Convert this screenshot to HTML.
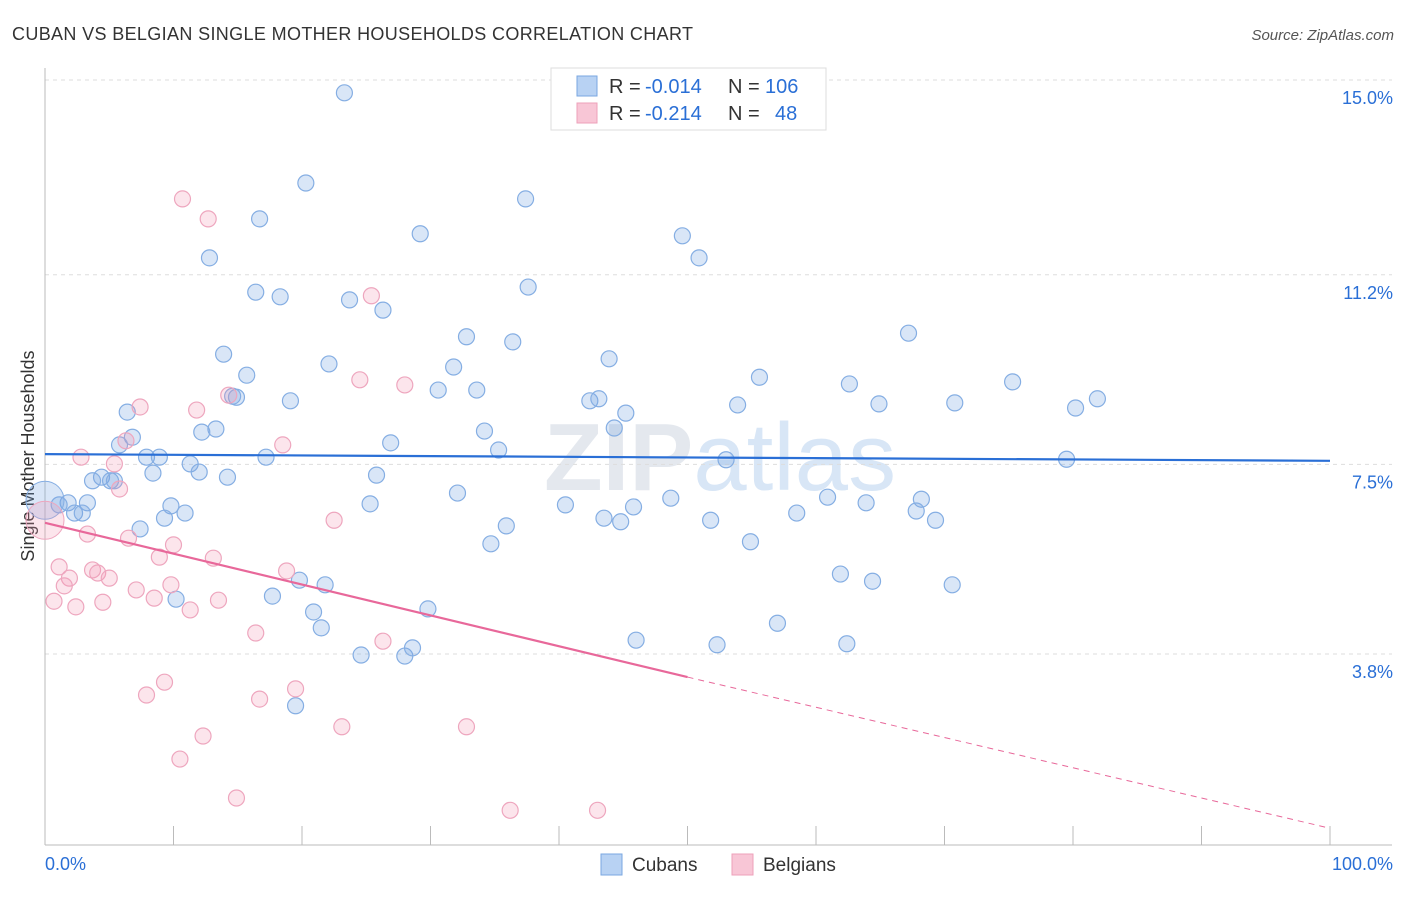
<!DOCTYPE html>
<html><head><meta charset="utf-8"><style>
body{margin:0;background:#fff;font-family:"Liberation Sans",sans-serif;}
</style></head><body>
<svg id="c" width="1406" height="892" xmlns="http://www.w3.org/2000/svg" style="font-family:'Liberation Sans',sans-serif">
<text x="12" y="40" font-size="18" fill="#333" textLength="681">CUBAN VS BELGIAN SINGLE MOTHER HOUSEHOLDS CORRELATION CHART</text>
<text x="1394" y="40" font-size="15" fill="#555" text-anchor="end" font-style="italic">Source: ZipAtlas.com</text>
<text x="720" y="490" font-size="96" fill="#e4e8ee" text-anchor="middle" font-weight="bold">ZIP<tspan fill="#d8e6f6" font-weight="normal">atlas</tspan></text>
<text x="34" y="456" font-size="18" fill="#333" text-anchor="middle" transform="rotate(-90 34 456)">Single Mother Households</text>
<g id="grid"></g><g id="pts"></g><g id="lines"></g>
<g>
<rect x="551" y="68" width="275" height="62" fill="#fff" stroke="#ddd"/>
<rect x="577" y="76" width="20" height="20" fill="#b8d2f3" stroke="#7aa7e0"/>
<rect x="577" y="103" width="20" height="20" fill="#f8c6d6" stroke="#eea0ba"/>
<text x="609" y="93" font-size="20" fill="#333">R =</text>
<text x="645" y="93" font-size="20" fill="#2a6fd6">-0.014</text>
<text x="728" y="93" font-size="20" fill="#333">N =</text>
<text x="765" y="93" font-size="20" fill="#2a6fd6">106</text>
<text x="609" y="120" font-size="20" fill="#333">R =</text>
<text x="645" y="120" font-size="20" fill="#2a6fd6">-0.214</text>
<text x="728" y="120" font-size="20" fill="#333">N =</text>
<text x="775" y="120" font-size="20" fill="#2a6fd6">48</text>
</g>
<g>
<rect x="601" y="854" width="21" height="21" fill="#b8d2f3" stroke="#7aa7e0"/>
<text x="632" y="871" font-size="19" fill="#333">Cubans</text>
<rect x="732" y="854" width="21" height="21" fill="#f8c6d6" stroke="#eea0ba"/>
<text x="763" y="871" font-size="19" fill="#333">Belgians</text>
</g>
</svg>
<script>
const yTicks=[15.0,11.2,7.5,3.8];
const yTickLabels=["15.0%","11.2%","7.5%","3.8%"];
const xTickLabels=["0.0%","100.0%"];
const cubanX=[23.3,20.3,37.4,16.7,29.2,49.6,12.8,50.9,37.6,16.4,18.3,23.7,26.3,67.2,32.8,36.4,13.9,43.9,22.1,31.8,15.7,55.6,62.6,75.3,30.6,33.6,14.9,14.6,19.1,42.4,43.1,53.9,64.9,70.8,81.9,80.2,6.4,45.2,44.3,13.3,12.2,34.2,6.8,5.8,26.9,35.3,7.9,8.9,17.2,53.0,79.5,11.3,8.4,12.0,14.2,25.8,4.4,3.7,5.1,5.4,32.1,48.7,60.9,68.2,3.3,1.8,1.1,25.3,40.5,45.8,63.9,9.8,67.8,2.3,2.9,10.9,9.3,58.5,43.5,44.8,51.8,69.3,35.9,7.4,34.7,54.9,61.9,64.4,70.6,19.8,21.8,17.7,10.2,29.8,20.9,21.5,57.0,46.0,52.3,62.4,24.6,28.0,28.6,19.5];
const cubanY=[14.75,12.99,12.68,12.29,12.0,11.96,11.53,11.53,10.96,10.86,10.77,10.71,10.51,10.06,9.99,9.89,9.65,9.56,9.46,9.40,9.24,9.2,9.07,9.11,8.95,8.95,8.81,8.83,8.74,8.74,8.78,8.66,8.68,8.70,8.78,8.60,8.52,8.50,8.21,8.19,8.13,8.15,8.03,7.88,7.92,7.78,7.64,7.64,7.64,7.59,7.60,7.51,7.33,7.35,7.25,7.29,7.25,7.18,7.18,7.18,6.94,6.84,6.86,6.82,6.75,6.75,6.71,6.73,6.71,6.67,6.75,6.69,6.59,6.55,6.55,6.55,6.45,6.55,6.45,6.38,6.41,6.41,6.30,6.24,5.95,5.99,5.36,5.22,5.15,5.24,5.15,4.93,4.87,4.68,4.62,4.31,4.40,4.07,3.98,4.00,3.78,3.76,3.92,2.79];
const belgianX=[10.7,12.7,25.4,24.5,28.0,14.3,7.4,11.8,6.3,18.5,2.8,5.4,5.8,22.5,3.3,6.5,10.0,8.9,13.1,1.1,3.7,4.1,1.9,5.0,18.8,1.5,9.8,7.1,8.5,0.7,4.5,13.5,2.4,11.3,16.4,26.3,9.3,19.5,7.9,16.7,23.1,32.8,12.3,10.5,14.9,36.2,43.0];
const belgianY=[12.68,12.29,10.79,9.15,9.05,8.85,8.62,8.56,7.96,7.88,7.64,7.51,7.02,6.41,6.14,6.06,5.93,5.69,5.67,5.50,5.44,5.38,5.28,5.28,5.42,5.13,5.15,5.05,4.89,4.83,4.81,4.85,4.72,4.66,4.21,4.05,3.25,3.12,3.0,2.92,2.38,2.38,2.2,1.75,0.99,0.75,0.75];
const bigPoints=[[0,6.80,"cubans"],[0,6.41,"belgians"]];
const cubanTrend=[7.70,7.57];
const belgianTrend=[6.36,3.35,0.40];
const NS="http://www.w3.org/2000/svg";
const X=v=>45+v*12.85, Y=v=>80+(15-v)*51.25;
function mk(t,a,p){const e=document.createElementNS(NS,t);for(const k in a)e.setAttribute(k,a[k]);p.appendChild(e);return e;}
const g=document.getElementById('grid'),svg=document.getElementById('c');
yTicks.forEach((t,i)=>{
 const l=mk('line',{x1:45,x2:1392,y1:Y(t),y2:Y(t),stroke:'#ddd','stroke-dasharray':'4,4'},g);
 
 
 const tx=mk('text',{x:1393,y:Y(t)+24,'font-size':18,fill:'#2a6fd6','text-anchor':'end'},g);
 tx.textContent=yTickLabels[i];
 
 
});
const ax=mk('line',{x1:45,x2:45,y1:68,y2:845,stroke:'#bbb'},g);


const bx=mk('line',{x1:45,x2:1392,y1:845,y2:845,stroke:'#bbb'},g);


for(let i=0;i<=10;i++){const t=mk('line',{x1:X(i*10),x2:X(i*10),y1:826,y2:845,stroke:'#bbb'},g);
 
 }
[[0,'start',45],[100,'end',1393]].forEach((d,i)=>{const t=mk('text',{x:d[2],y:870,'font-size':18,fill:'#2a6fd6','text-anchor':d[1]},g);t.textContent=xTickLabels[i];
 
 });
const p=document.getElementById('pts');
const sty={cubans:['rgba(120,165,225,0.28)','#85aee3'],belgians:['rgba(242,150,180,0.25)','#eea6be']};
function dots(xs,ys,s,name){xs.forEach((x,i)=>{const c=mk('circle',{cx:X(x),cy:Y(ys[i]),r:8,fill:sty[s][0],stroke:sty[s][1],'stroke-width':1.2},p);
 
 });}
dots(cubanX,cubanY,'cubans','cuban-point');
dots(belgianX,belgianY,'belgians','belgian-point');
bigPoints.forEach(b=>{const c=mk('circle',{cx:X(b[0]),cy:Y(b[1]),r:19,fill:sty[b[2]][0],stroke:sty[b[2]][1]},p);
 
 });
const L=document.getElementById('lines');
const l1=mk('line',{x1:X(0),y1:Y(cubanTrend[0]),x2:X(100),y2:Y(cubanTrend[1]),stroke:'#2a6fd6','stroke-width':2.2},L);


const l2=mk('line',{x1:X(0),y1:Y(belgianTrend[0]),x2:X(50),y2:Y(belgianTrend[1]),stroke:'#e8689a','stroke-width':2.2},L);


const l3=mk('line',{x1:X(50),y1:Y(belgianTrend[1]),x2:X(100),y2:Y(belgianTrend[2]),stroke:'#e8689a','stroke-width':1,'stroke-dasharray':'6,5'},L);


</script>
</body></html>
